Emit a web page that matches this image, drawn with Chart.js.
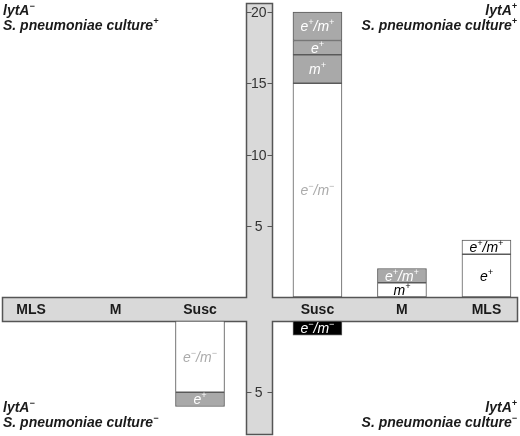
<!DOCTYPE html>
<html>
<head>
<meta charset="utf-8">
<script src="https://cdn.jsdelivr.net/npm/chart.js@4"></script>
<style>
  body { margin: 0; background: #fff; }
  canvas { display: block; }
</style>
</head>
<body>
<canvas id="chart" width="520" height="436"></canvas>
<script>
// categories along the horizontal axis (left half lytA-, right half lytA+)
const categories = ['MLS', 'M', 'Susc', 'Susc', 'M', 'MLS'];

// culture+ (above the axis), stacked outwards from the axis
const upNeg = [0, 0, 0, 15, 0, 0];   // e-/m-
const upM   = [0, 0, 0, 2, 1, 0];    // m+
const upE   = [0, 0, 0, 1, 0, 3];    // e+
const upEM  = [0, 0, 0, 2, 1, 1];    // e+/m+

// culture- (below the axis)
const downNeg = [0, 0, 5, 1, 0, 0];  // e-/m-
const downE   = [0, 0, 1, 0, 0, 0];  // e+

const ticksUp = [20, 15, 10, 5];
const ticksDown = [5];

// layout
const GAP_X = 0.39;   // extra room for the vertical band
const BAND_Y = 1.684; // thickness of the horizontal band, in y units
const xPos = categories.map((c, i) => i < 3 ? i : i + GAP_X);
const xMid = (xPos[2] + xPos[3]) / 2;

const WHITE = '#ffffff', GREY = '#a9a9a9', BLACK = '#000000';
const LIGHT = '#ababab';

// one entry per series: fill and text colour for each category
const series = [
  { values: upNeg, side: 1, text: 'e⁻/m⁻',
    fill: [WHITE, WHITE, WHITE, WHITE, WHITE, WHITE], ink: Array(6).fill(LIGHT) },
  { values: upM, side: 1, text: 'm⁺',
    fill: [WHITE, WHITE, WHITE, GREY, WHITE, WHITE], ink: ['#000', '#000', '#000', '#fff', '#000', '#000'] },
  { values: upE, side: 1, text: 'e⁺',
    fill: [WHITE, WHITE, WHITE, GREY, WHITE, WHITE], ink: ['#000', '#000', '#000', '#fff', '#000', '#000'] },
  { values: upEM, side: 1, text: 'e⁺/m⁺',
    fill: [WHITE, WHITE, WHITE, GREY, GREY, WHITE], ink: ['#000', '#000', '#000', '#fff', '#fff', '#000'] },
  { values: downNeg, side: -1, text: 'e⁻/m⁻',
    fill: [WHITE, WHITE, WHITE, BLACK, WHITE, WHITE], ink: [LIGHT, LIGHT, LIGHT, '#fff', LIGHT, LIGHT] },
  { values: downE, side: -1, text: 'e⁺',
    fill: [GREY, GREY, GREY, GREY, GREY, GREY], ink: Array(6).fill('#fff') }
];

// cumulative stacking, below the axis values go down past the band
const cumUp = Array(6).fill(0), cumDown = Array(6).fill(0);
const datasets = series.map(s => {
  const pts = [], fills = [], inks = [];
  s.values.forEach((v, i) => {
    if (!v) return;
    const cum = s.side > 0 ? cumUp : cumDown;
    const a = cum[i], b = cum[i] + v;
    cum[i] = b;
    pts.push({ x: xPos[i], y: s.side > 0 ? [a, b] : [-(BAND_Y + a), -(BAND_Y + b)] });
    fills.push(s.fill[i]);
    inks.push(s.ink[i]);
  });
  return {
    data: pts,
    backgroundColor: fills,
    borderColor: '#5a5a5a',
    borderWidth: 1,
    borderSkipped: false,
    barThickness: 49,
    grouped: false,
    segText: s.text,
    segInk: inks
  };
});

// draw text, turning ⁺ ⁻ into small raised signs
function richText(ctx, str, x, y, size, weight, style, align) {
  const parts = [];
  for (const ch of str) {
    const sup = ch === '⁺' || ch === '⁻';
    const t = ch === '⁺' ? '+' : ch === '⁻' ? '−' : ch;
    const last = parts[parts.length - 1];
    if (last && last.sup === sup) last.t += t; else parts.push({ t, sup });
  }
  const supSize = Math.round(size * 0.62);
  const fontOf = p => `${style} ${weight} ${p.sup ? supSize : size}px "Liberation Sans", Arial, sans-serif`;
  let w = 0;
  parts.forEach(p => { ctx.font = fontOf(p); p.w = ctx.measureText(p.t).width; w += p.w; });
  let cx = align === 'center' ? x - w / 2 : align === 'right' ? x - w : x;
  ctx.textAlign = 'left';
  ctx.textBaseline = 'alphabetic';
  parts.forEach(p => {
    ctx.font = fontOf(p);
    ctx.fillText(p.t, cx, p.sup ? y - size * 0.42 : y);
    cx += p.w;
  });
}

const crossPlugin = {
  id: 'cross',
  beforeDatasetsDraw(chart) {
    const { ctx, chartArea: ca, scales: { x, y } } = chart;
    const hy0 = Math.round(y.getPixelForValue(0)) + 0.5;
    const hy1 = Math.round(y.getPixelForValue(-BAND_Y)) + 0.5;
    const cx = x.getPixelForValue(xMid);
    const vx0 = Math.round(cx - 13) + 0.5, vx1 = Math.round(cx + 13) + 0.5;
    const hx0 = ca.left + 0.5, hx1 = ca.right - 0.5;
    const vy0 = ca.top + 0.5, vy1 = ca.bottom - 0.5;
    ctx.save();
    ctx.beginPath();
    ctx.moveTo(vx0, vy0); ctx.lineTo(vx1, vy0); ctx.lineTo(vx1, hy0);
    ctx.lineTo(hx1, hy0); ctx.lineTo(hx1, hy1); ctx.lineTo(vx1, hy1);
    ctx.lineTo(vx1, vy1); ctx.lineTo(vx0, vy1); ctx.lineTo(vx0, hy1);
    ctx.lineTo(hx0, hy1); ctx.lineTo(hx0, hy0); ctx.lineTo(vx0, hy0);
    ctx.closePath();
    ctx.fillStyle = '#d9d9d9';
    ctx.fill();
    ctx.strokeStyle = '#555';
    ctx.lineWidth = 1.5;
    ctx.stroke();

    // y ticks inside the vertical band
    ctx.fillStyle = '#333';
    ctx.strokeStyle = '#555';
    ctx.lineWidth = 1;
    const ticks = ticksUp.map(v => ({ v, pos: v }))
      .concat(ticksDown.map(v => ({ v, pos: -(BAND_Y + v) })));
    ticks.forEach(t => {
      const py = Math.round(y.getPixelForValue(t.pos)) + 0.5;
      ctx.beginPath();
      ctx.moveTo(vx0, py); ctx.lineTo(vx0 + 5, py);
      ctx.moveTo(vx1 - 5, py); ctx.lineTo(vx1, py);
      ctx.stroke();
      ctx.font = '14px "Liberation Sans", Arial, sans-serif';
      ctx.textAlign = 'center';
      ctx.textBaseline = 'middle';
      ctx.fillText(String(t.v), cx, py + 1);
    });

    // category names inside the horizontal band
    ctx.fillStyle = '#1a1a1a';
    ctx.font = 'bold 14px "Liberation Sans", Arial, sans-serif';
    ctx.textAlign = 'center';
    ctx.textBaseline = 'middle';
    categories.forEach((c, i) => {
      ctx.fillText(c, x.getPixelForValue(xPos[i]), (hy0 + hy1) / 2 + 1);
    });
    ctx.restore();
  },
  afterDatasetsDraw(chart) {
    const { ctx } = chart;
    ctx.save();
    chart.data.datasets.forEach((ds, di) => {
      chart.getDatasetMeta(di).data.forEach((bar, j) => {
        ctx.fillStyle = ds.segInk[j];
        const my = (bar.y + bar.base) / 2;
        richText(ctx, ds.segText, bar.x, my + 5, 14, 'normal', 'italic', 'center');
      });
    });

    // quadrant captions
    ctx.fillStyle = '#1a1a1a';
    const W = chart.width;
    richText(ctx, 'lytA⁻', 3, 15, 14, 'bold', 'italic', 'left');
    richText(ctx, 'S. pneumoniae culture⁺', 3, 30, 14, 'bold', 'italic', 'left');
    richText(ctx, 'lytA⁺', W - 3, 15, 14, 'bold', 'italic', 'right');
    richText(ctx, 'S. pneumoniae culture⁺', W - 3, 30, 14, 'bold', 'italic', 'right');
    richText(ctx, 'lytA⁻', 3, 412, 14, 'bold', 'italic', 'left');
    richText(ctx, 'S. pneumoniae culture⁻', 3, 427, 14, 'bold', 'italic', 'left');
    richText(ctx, 'lytA⁺', W - 3, 412, 14, 'bold', 'italic', 'right');
    richText(ctx, 'S. pneumoniae culture⁻', W - 3, 427, 14, 'bold', 'italic', 'right');
    ctx.restore();
  }
};

new Chart(document.getElementById('chart'), {
  type: 'bar',
  data: { datasets },
  options: {
    responsive: false,
    animation: false,
    events: [],
    layout: { padding: { left: 2, right: 2, top: 3, bottom: 1 } },
    plugins: { legend: { display: false }, tooltip: { enabled: false } },
    scales: {
      x: {
        type: 'linear',
        offset: false,
        min: (2 - 31) / 84.5,
        max: (518 - 31) / 84.5,
        display: false
      },
      y: {
        min: -(435 - 297) / 14.25,
        max: (297 - 3) / 14.25,
        display: false
      }
    }
  },
  plugins: [crossPlugin]
});
</script>
</body>
</html>
